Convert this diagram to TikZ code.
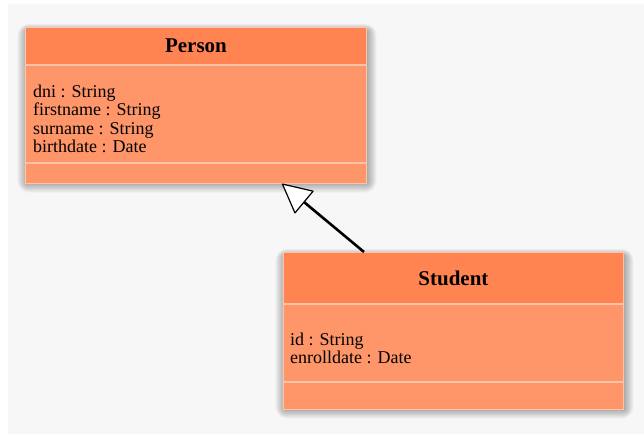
\documentclass[tikz,border=0pt]{standalone}
\usepackage{fontspec}
\setmainfont{Liberation Serif}
\usetikzlibrary{arrows.meta,calc}
\definecolor{bgcol}{HTML}{F7F7F7}
\definecolor{hdrcol}{HTML}{FF8452}
\definecolor{bodycol}{HTML}{FF966A}
\definecolor{sepcol}{HTML}{FFC4A8}
\newcommand\myshadow[4]{%
  \foreach \i in {1,...,12}{%
    \fill[black,opacity=0.028,rounded corners=\i pt] (#1-0.8*\i+2,#2-0.6*\i+4) rectangle (#3+0.8*\i+1,#4+0.8*\i+2);}}
\begin{document}
\begin{tikzpicture}[x=1pt,y=-1pt,
  comp/.style={draw=sepcol,line width=0.9pt,inner sep=0pt,anchor=north west},
  head/.style={comp,fill=hdrcol},
  attrs/.style={comp,fill=bodycol},
  title/.style={font=\bfseries\fontsize{21}{24}\selectfont,inner sep=0pt},
  attr/.style={font=\fontsize{18}{21}\selectfont,inner sep=0pt,anchor=base west},
  inherit/.style={line width=2.6pt,-{Triangle[fill=white,length=30pt,width=30pt,line width=1.2pt,round]}}]
\useasboundingbox (0,0) rectangle (644,434);
\fill[white] (0,0) rectangle (644,434);
\fill[bgcol] (8,4) rectangle (644,434);
% shadows
\myshadow{25}{27}{366}{181}
\myshadow{283}{252}{623}{407}
% Person
\node[head,minimum width=341pt,minimum height=37pt] (personhead) at (25,27) {};
\node[attrs,minimum width=341pt,minimum height=97pt] (personattr) at (personhead.south west) {};
\node[attrs,minimum width=341pt,minimum height=20pt] (personops) at (personattr.south west) {};
\node[title] (persontitle) at (personhead.center) {Person};
\node[attr] (p1) at (33,97) {dni : String};
\node[attr] (p2) at (33,115.5) {firstname : String};
\node[attr] (p3) at (33,134) {surname : String};
\node[attr] (p4) at (33,152.5) {birthdate : Date};
% Student
\node[head,minimum width=340pt,minimum height=51pt] (studenthead) at (283,252) {};
\node[attrs,minimum width=340pt,minimum height=77pt] (studentattr) at (studenthead.south west) {};
\node[attrs,minimum width=340pt,minimum height=27pt] (studentops) at (studentattr.south west) {};
\node[title] (studenttitle) at (studenthead.center) {Student};
\node[attr] (s1) at (290,345) {id : String};
\node[attr] (s2) at (290,363) {enrolldate : Date};
% generalization
\coordinate (genfrom) at ($(studenthead.north west)+(81,0)$);
\coordinate (gento) at ($(personops.south west)+(257,0)$);
\draw[inherit] (genfrom) -- (gento);
\end{tikzpicture}
\end{document}
